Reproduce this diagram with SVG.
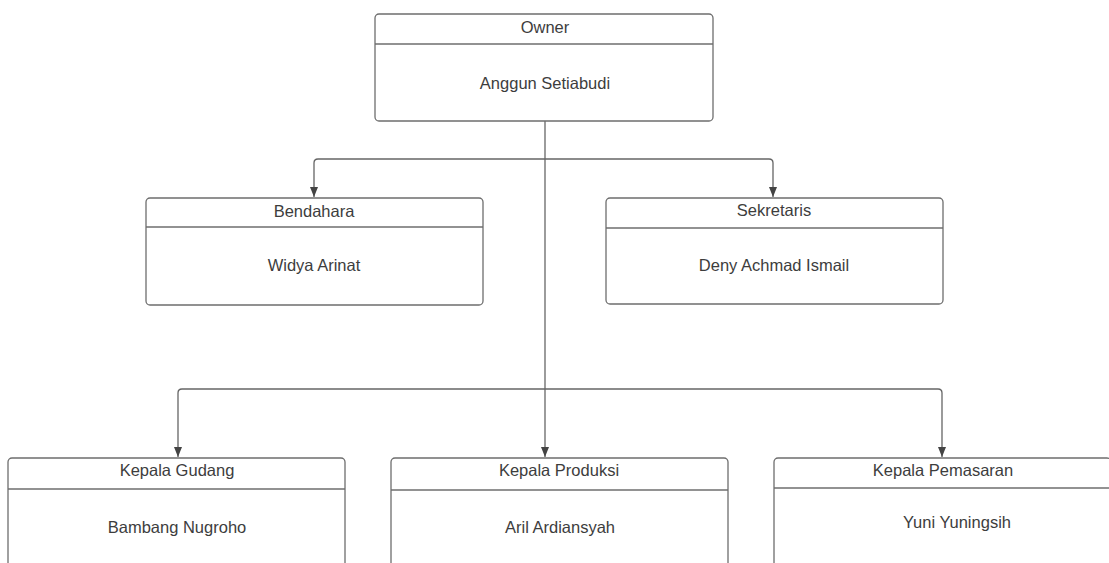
<svg xmlns="http://www.w3.org/2000/svg" width="1109" height="563" viewBox="0 0 1109 563">
<style>
.box{fill:#fff;stroke:#6e6e6e;stroke-width:1.3}
.div{stroke:#6e6e6e;stroke-width:1.3}
.t{font-family:"Liberation Sans",Arial,sans-serif;font-size:16.5px;fill:#3d3d3d;text-anchor:middle}
.c{fill:none;stroke:#666;stroke-width:1.3}
</style>
<defs>
<marker id="ah" viewBox="0 0 10 10" refX="10" refY="5" markerWidth="10" markerHeight="10" markerUnits="userSpaceOnUse" orient="auto">
<path d="M0,1 L10,5 L0,9 Z" fill="#444"/>
</marker>
</defs>
<rect width="1109" height="563" fill="#fff"/>
<g id="connectors">
<path class="c" d="M545,121 L545,457" marker-end="url(#ah)"/>
<path class="c" d="M545,159 L318,159 Q314,159 314,163 L314,197" marker-end="url(#ah)"/>
<path class="c" d="M545,159 L769,159 Q773,159 773,163 L773,197" marker-end="url(#ah)"/>
<path class="c" d="M545,389 L182,389 Q178,389 178,393 L178,457" marker-end="url(#ah)"/>
<path class="c" d="M545,389 L938,389 Q942,389 942,393 L942,457" marker-end="url(#ah)"/>
</g>
<g id="owner">
<rect class="box" x="375" y="14" width="338" height="107" rx="4"/>
<line class="div" x1="375" y1="44" x2="713" y2="44"/>
<text class="t" x="545" y="33">Owner</text>
<text class="t" x="545" y="89">Anggun Setiabudi</text>
</g>
<g id="bendahara">
<rect class="box" x="146" y="198" width="337" height="107" rx="4"/>
<line class="div" x1="146" y1="227" x2="483" y2="227"/>
<text class="t" x="314" y="217">Bendahara</text>
<text class="t" x="314" y="271">Widya Arinat</text>
</g>
<g id="sekretaris">
<rect class="box" x="606" y="198" width="337" height="106" rx="4"/>
<line class="div" x1="606" y1="228" x2="943" y2="228"/>
<text class="t" x="774" y="216">Sekretaris</text>
<text class="t" x="774" y="271">Deny Achmad Ismail</text>
</g>
<g id="kepala-gudang">
<rect class="box" x="8" y="458" width="337" height="120" rx="4"/>
<line class="div" x1="8" y1="489" x2="345" y2="489"/>
<text class="t" x="177" y="476">Kepala Gudang</text>
<text class="t" x="177" y="533">Bambang Nugroho</text>
</g>
<g id="kepala-produksi">
<rect class="box" x="391" y="458" width="337" height="120" rx="4"/>
<line class="div" x1="391" y1="490" x2="728" y2="490"/>
<text class="t" x="559" y="476">Kepala Produksi</text>
<text class="t" x="560" y="533">Aril Ardiansyah</text>
</g>
<g id="kepala-pemasaran">
<rect class="box" x="774" y="458" width="337" height="120" rx="4"/>
<line class="div" x1="774" y1="488" x2="1111" y2="488"/>
<text class="t" x="943" y="476">Kepala Pemasaran</text>
<text class="t" x="957" y="528">Yuni Yuningsih</text>
</g>
</svg>
